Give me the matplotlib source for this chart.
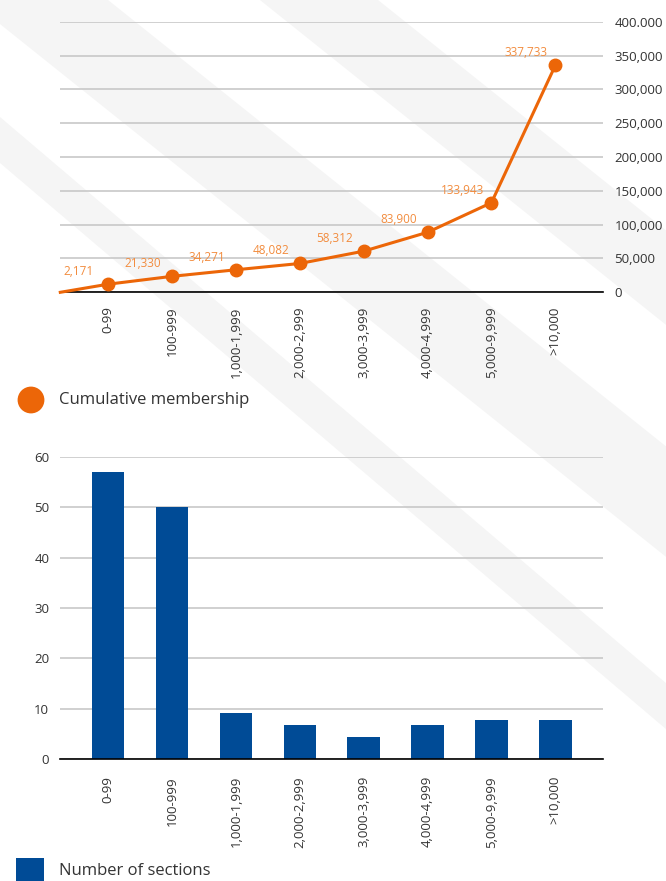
import matplotlib
matplotlib.use("Agg")
import matplotlib.pyplot as plt
from matplotlib.patches import Polygon, Circle, Rectangle

plt.rcParams['font.family'] = ['Open Sans', 'DejaVu Sans']

# data
categories = ['0-99', '100-999', '1,000-1,999', '2,000-2,999', '3,000-3,999',
              '4,000-4,999', '5,000-9,999', '>10,000']
membership = [12000, 23600, 33300, 42600, 60800, 88700, 132400, 335300]
membership_labels = ['2,171', '21,330', '34,271', '48,082', '58,312',
                     '83,900', '133,943', '337,733']
member_ticks = [0, 50000, 100000, 150000, 200000, 250000, 300000, 350000, 400000]
member_tick_labels = ['0', '50,000', '100,000', '150,000', '200,000',
                      '250,000', '300,000', '350,000', '400.000']
sections = [57, 50, 9.2, 6.8, 4.4, 6.8, 7.8, 7.8]
section_ticks = [0, 10, 20, 30, 40, 50, 60]

ORANGE = '#EC6608'
LABEL_ORANGE = '#F28C3E'
BLUE = '#004B96'
TEXT = '#333333'
GRID = '#C4C4C4'
STRIPE = '#F5F5F5'

W, H = 666, 881
fig = plt.figure(figsize=(W / 100, H / 100), dpi=100)

# background diagonal stripes, drawn in pixel space
bg = fig.add_axes([0, 0, 1, 1], zorder=-5)
bg.set_xlim(0, W)
bg.set_ylim(H, 0)
bg.axis('off')
stripes = [
    [(-30, 0), (108, 0), (108 + 1000, 800), (-30 + 1000, 800)],
    [(260, 0), (378, 0), (378 + 1000, 800), (260 + 1000, 800)],
    [(0, 117), (0, 163), (1000, 163 + 850), (1000, 117 + 850)],
]
for pts in stripes:
    bg.add_patch(Polygon(pts, closed=True, facecolor=STRIPE, edgecolor='none'))


def px_axes(left, top, right, bottom):
    return fig.add_axes([left / W, 1 - bottom / H, (right - left) / W, (bottom - top) / H])


x = list(range(len(categories)))

# ---- top: cumulative membership line
ax1 = px_axes(60.3, 21.7, 603.2, 292.3)
ax1.set_facecolor('none')
ax1.set_xlim(-0.75, 7.75)
ax1.set_ylim(0, 400000)
ax1.set_yticks(member_ticks)
ax1.set_yticklabels(member_tick_labels)
ax1.yaxis.tick_right()
ax1.grid(axis='y', color=GRID, linewidth=1.1)
ax1.set_axisbelow(True)
ax1.tick_params(axis='y', length=0, pad=8, labelsize=9.5, labelcolor=TEXT)
ax1.set_xticks(x)
ax1.set_xticklabels(categories, rotation=90, ha='center', va='top')
ax1.tick_params(axis='x', length=0, pad=10, labelsize=9.5, labelcolor=TEXT)
for s in ['top', 'left', 'right']:
    ax1.spines[s].set_visible(False)
ax1.spines['bottom'].set_color('black')
ax1.spines['bottom'].set_linewidth(1.2)

x0 = ax1.get_xlim()[0]
ax1.plot([x0] + x, [0] + membership, color=ORANGE, linewidth=2.2, zorder=3,
         clip_on=False)
ax1.plot(x, membership, 'o', color=ORANGE, markersize=9, zorder=4)
for xi, yi, lab in zip(x, membership, membership_labels):
    ax1.annotate(lab, (xi, yi), xytext=(-21, 9), textcoords='offset points',
                 ha='center', va='center', fontsize=8.5, color=LABEL_ORANGE)

# ---- bottom: number of sections bars
ax2 = px_axes(60.3, 456.7, 603.2, 759.3)
ax2.set_facecolor('none')
ax2.set_xlim(-0.75, 7.75)
ax2.set_ylim(0, 60)
ax2.bar(x, sections, width=0.51, color=BLUE, zorder=3)
ax2.set_yticks(section_ticks)
ax2.grid(axis='y', color=GRID, linewidth=1.1)
ax2.set_axisbelow(True)
ax2.tick_params(axis='y', length=0, pad=8, labelsize=9.5, labelcolor=TEXT)
ax2.set_xticks(x)
ax2.set_xticklabels(categories, rotation=90, ha='center', va='top')
ax2.tick_params(axis='x', length=0, pad=12, labelsize=9.5, labelcolor=TEXT)
for s in ['top', 'left', 'right']:
    ax2.spines[s].set_visible(False)
ax2.spines['bottom'].set_color('black')
ax2.spines['bottom'].set_linewidth(1.2)
ax2.spines['bottom'].set_zorder(4)

# ---- legends (pixel space on the background axes)
leg = fig.add_axes([0, 0, 1, 1], zorder=5)
leg.set_xlim(0, W)
leg.set_ylim(H, 0)
leg.axis('off')
leg.add_patch(Circle((31, 400), 13.4, facecolor=ORANGE, edgecolor='none'))
leg.text(59, 400, 'Cumulative membership', fontsize=12, color=TEXT,
         ha='left', va='center')
leg.add_patch(Rectangle((16, 858), 28, 30, facecolor=BLUE, edgecolor='none'))
leg.text(59, 871, 'Number of sections', fontsize=12, color=TEXT,
         ha='left', va='center')

fig.savefig('out.png', dpi=100, facecolor='white')
